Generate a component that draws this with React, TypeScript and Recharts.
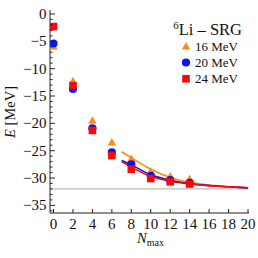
import React from 'react';
import { ComposedChart, XAxis, YAxis, Scatter, Line, ReferenceLine } from 'recharts';

const nmax = [0, 2, 4, 6, 8, 10, 12, 14];
const e16 = [-6.0, -12.4, -19.6, -23.6, -26.6, -28.9, -29.8, -30.3];
const e20 = [-5.4, -13.7, -20.9, -25.3, -27.5, -29.6, -30.4, -30.9];
const e24 = [-2.3, -13.1, -21.3, -25.9, -28.4, -30.1, -30.7, -31.1];

const fitX = [7, 8, 10, 12, 14, 16, 18, 20];
const fit16 = [-25.2, -26.3, -28.4, -29.9, -30.8, -31.3, -31.6, -31.8];
const fit20 = [-26.8, -27.6, -29.4, -30.4, -31.0, -31.4, -31.6, -31.8];
const fit24 = [-27.0, -28.0, -29.7, -30.6, -31.1, -31.4, -31.6, -31.8];

const expValue = -32;
const xTicks = [0, 2, 4, 6, 8, 10, 12, 14, 16, 18, 20];
const yTicks = Array.from({ length: 37 }, (_, i) => -i);

const ORANGE = '#FF8A14';
const BLUE = '#0A14F5';
const RED = '#F50A0A';
const FONT = "'Liberation Serif', 'Times New Roman', Times, serif";
const T: React.CSSProperties = { fontFamily: FONT };

const pts = (ys: number[]) => nmax.map((x, i) => ({ x, y: ys[i] }));
const fit = (ys: number[]) => fitX.map((x, i) => ({ x, y: ys[i] }));

const fmt = (v: number) => (v < 0 ? '\u2212' + Math.abs(v) : String(v));

const YTick = (props: any) => {
  const { x, y, payload } = props;
  const v = payload.value;
  const major = v % 5 === 0;
  return (
    <g>
      <line x1={x} x2={x + (major ? 5 : 2.5)} y1={y} y2={y} stroke="#222" strokeWidth={1} />
      {major && (
        <text x={x - 3.5} y={y} dy={5} textAnchor="end" style={T} fontSize={15} fill="#111">
          {fmt(v)}
        </text>
      )}
    </g>
  );
};

const XTick = (props: any) => {
  const { x, y, payload } = props;
  return (
    <g>
      <line x1={x} x2={x} y1={y} y2={y - 4} stroke="#222" strokeWidth={1} />
      <text x={x} y={y + 15.5} textAnchor="middle" style={T} fontSize={15} fill="#111">
        {fmt(payload.value)}
      </text>
    </g>
  );
};

const Tri = (p: any) => {
  const { cx, cy } = p;
  return <polygon points={`${cx},${cy - 5} ${cx - 4.2},${cy + 2.6} ${cx + 4.2},${cy + 2.6}`} fill={ORANGE} />;
};
const Circ = (p: any) => <circle cx={p.cx} cy={p.cy} r={4.1} fill={BLUE} />;
const Sq = (p: any) => <rect x={p.cx - 3.8} y={p.cy - 3.8} width={7.6} height={7.6} fill={RED} />;

export default function App() {
  return (
    <div style={{ position: 'fixed', left: 0, top: 0, width: 258, height: 258, background: '#fff' }}>
      <ComposedChart width={258} height={258} margin={{ top: 10, right: 9, left: 0, bottom: 0 }}>
        <XAxis
          xAxisId={0}
          type="number"
          dataKey="x"
          domain={[-0.36, 20.1]}
          ticks={xTicks}
          interval={0}
          tickSize={0}
          tickMargin={0}
          tick={<XTick />}
          height={45}
          axisLine={{ stroke: '#222' }}
          allowDataOverflow
        />
        <XAxis xAxisId="top" orientation="top" type="number" domain={[0, 1]} height={0} tick={false} tickLine={false} axisLine={{ stroke: '#222' }} />
        <YAxis
          yAxisId={0}
          type="number"
          dataKey="y"
          domain={[-36.4, 0.73]}
          ticks={yTicks}
          interval={0}
          tickSize={0}
          tickMargin={0}
          tick={<YTick />}
          width={50}
          axisLine={{ stroke: '#222' }}
          allowDataOverflow
        />
        <YAxis yAxisId="right" orientation="right" type="number" domain={[0, 1]} width={0} tick={false} tickLine={false} axisLine={{ stroke: '#222' }} />
        <ReferenceLine y={expValue} stroke="#bdbdbd" strokeWidth={1.2} />
        <Line data={fit(fit16)} dataKey="y" type="monotone" stroke={ORANGE} strokeWidth={1.6} dot={false} isAnimationActive={false} />
        <Line data={fit(fit20)} dataKey="y" type="monotone" stroke={BLUE} strokeWidth={1.6} dot={false} isAnimationActive={false} />
        <Line data={fit(fit24)} dataKey="y" type="monotone" stroke={RED} strokeWidth={1.6} dot={false} isAnimationActive={false} />
        <Scatter data={pts(e16)} dataKey="y" shape={<Tri />} isAnimationActive={false} />
        <Scatter data={pts(e20)} dataKey="y" shape={<Circ />} isAnimationActive={false} />
        <Scatter data={pts(e24)} dataKey="y" shape={<Sq />} isAnimationActive={false} />
      </ComposedChart>
      <svg width={258} height={258} style={{ position: 'absolute', left: 0, top: 0, pointerEvents: 'none' }}>
        <text x={242} y={35} textAnchor="end" style={T} fontSize={16.5} fill="#111">
          <tspan fontSize={11} dy={-6}>6</tspan>
          <tspan dy={6}>Li – SRG</tspan>
        </text>
        <polygon points="186,42 181.8,49.6 190.2,49.6" fill={ORANGE} />
        <text x={195} y={51} style={T} fontSize={13} fill="#111">16 MeV</text>
        <circle cx={186} cy={62.5} r={4.1} fill={BLUE} />
        <text x={195} y={67} style={T} fontSize={13} fill="#111">20 MeV</text>
        <rect x={182.2} y={75} width={7.6} height={7.6} fill={RED} />
        <text x={195} y={83} style={T} fontSize={13} fill="#111">24 MeV</text>
        <text x={0} y={0} transform="translate(15,112) rotate(-90)" textAnchor="middle" style={T} fontSize={14.5} fill="#111">
          <tspan fontStyle="italic">E</tspan> [MeV]
        </text>
        <text x={137} y={243} style={T} fontSize={14.5} fill="#111">
          <tspan fontStyle="italic">N</tspan>
          <tspan fontSize={10} dy={3}>max</tspan>
        </text>
      </svg>
    </div>
  );
}
